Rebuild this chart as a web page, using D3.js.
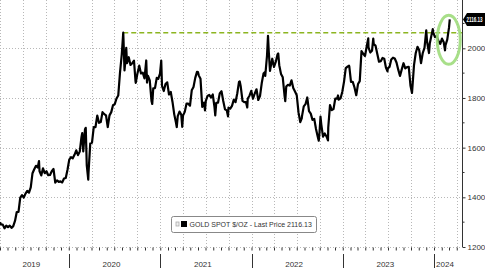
<!DOCTYPE html>
<meta charset="utf-8">
<style>
body { margin: 0; background: #fff; }
svg { display: block; font-family: "Liberation Sans", Arial, sans-serif; }
.grid line { stroke: #b8b8b8; stroke-dasharray: 1,2; }
.axis text { fill: #333; font-size: 8px; }
.axis line, .axis path { stroke: #333; }
</style>
<svg id="chart" width="485" height="268"></svg>
<script src="https://cdn.jsdelivr.net/npm/d3@7"></script>
<script>
// weekly closes plus the odd daily extreme
var dates = [
  "2019-04-01","2019-04-05","2019-04-12","2019-04-19","2019-04-26","2019-05-03","2019-05-10","2019-05-17","2019-05-24","2019-05-31",
  "2019-06-07","2019-06-14","2019-06-21","2019-06-28","2019-07-05","2019-07-12","2019-07-19","2019-07-26","2019-08-02","2019-08-09",
  "2019-08-16","2019-08-23","2019-08-30","2019-09-04","2019-09-06","2019-09-13","2019-09-20","2019-09-27","2019-10-04","2019-10-11","2019-10-18",
  "2019-10-25","2019-11-01","2019-11-08","2019-11-15","2019-11-22","2019-11-29","2019-12-06","2019-12-13","2019-12-20","2019-12-27",
  "2020-01-03","2020-01-10","2020-01-17","2020-01-24","2020-01-31","2020-02-07","2020-02-14","2020-02-21","2020-02-24","2020-02-28",
  "2020-03-06","2020-03-09","2020-03-13","2020-03-19","2020-03-20","2020-03-27","2020-04-03","2020-04-10","2020-04-17","2020-04-24",
  "2020-05-01","2020-05-08","2020-05-15","2020-05-22","2020-05-29","2020-06-05","2020-06-12","2020-06-19","2020-06-26","2020-07-03",
  "2020-07-10","2020-07-17","2020-07-24","2020-07-31","2020-08-06","2020-08-07","2020-08-11","2020-08-14","2020-08-18","2020-08-21",
  "2020-08-28","2020-09-04","2020-09-11","2020-09-18","2020-09-24","2020-09-25","2020-10-02","2020-10-09","2020-10-16","2020-10-23",
  "2020-10-30","2020-11-06","2020-11-09","2020-11-13","2020-11-20","2020-11-27","2020-11-30","2020-12-04","2020-12-11","2020-12-18",
  "2020-12-24","2020-12-31",
  "2021-01-05","2021-01-08","2021-01-15","2021-01-22","2021-01-29","2021-02-05","2021-02-12","2021-02-19","2021-02-26","2021-03-05",
  "2021-03-08","2021-03-12","2021-03-19","2021-03-26","2021-03-30","2021-04-02","2021-04-09","2021-04-16","2021-04-23","2021-04-30",
  "2021-05-07","2021-05-14","2021-05-21","2021-05-28","2021-06-01","2021-06-04","2021-06-11","2021-06-18","2021-06-25","2021-06-29",
  "2021-07-02","2021-07-09","2021-07-16","2021-07-23","2021-07-30","2021-08-06","2021-08-09","2021-08-13","2021-08-20","2021-08-27",
  "2021-09-03","2021-09-10","2021-09-17","2021-09-24","2021-09-29","2021-10-01","2021-10-08","2021-10-15","2021-10-22","2021-10-29",
  "2021-11-05","2021-11-12","2021-11-15","2021-11-19","2021-11-26","2021-12-03","2021-12-10","2021-12-15","2021-12-17","2021-12-24",
  "2021-12-31",
  "2022-01-07","2022-01-14","2022-01-21","2022-01-28","2022-02-04","2022-02-11","2022-02-18","2022-02-24","2022-02-25","2022-03-04",
  "2022-03-08","2022-03-11","2022-03-16","2022-03-18","2022-03-25","2022-04-01","2022-04-08","2022-04-15","2022-04-18","2022-04-22",
  "2022-04-29","2022-05-06","2022-05-13","2022-05-16","2022-05-20","2022-05-27","2022-06-03","2022-06-10","2022-06-17","2022-06-24",
  "2022-07-01","2022-07-08","2022-07-15","2022-07-21","2022-07-22","2022-07-29","2022-08-05","2022-08-12","2022-08-19","2022-08-26",
  "2022-09-02","2022-09-09","2022-09-16","2022-09-23","2022-09-27","2022-09-30","2022-10-04","2022-10-07","2022-10-14","2022-10-21",
  "2022-10-28","2022-11-03","2022-11-04","2022-11-11","2022-11-18","2022-11-25","2022-12-02","2022-12-09","2022-12-13","2022-12-16",
  "2022-12-23","2022-12-30",
  "2023-01-06","2023-01-13","2023-01-20","2023-01-26","2023-01-27","2023-02-03","2023-02-10","2023-02-17","2023-02-24","2023-03-03",
  "2023-03-10","2023-03-17","2023-03-24","2023-03-31","2023-04-07","2023-04-13","2023-04-14","2023-04-21","2023-04-28","2023-05-03",
  "2023-05-05","2023-05-12","2023-05-19","2023-05-26","2023-06-02","2023-06-09","2023-06-16","2023-06-23","2023-06-29","2023-06-30",
  "2023-07-07","2023-07-14","2023-07-21","2023-07-28","2023-08-04","2023-08-11","2023-08-18","2023-08-25","2023-09-01","2023-09-08",
  "2023-09-15","2023-09-22","2023-09-29","2023-10-05","2023-10-06","2023-10-13","2023-10-20","2023-10-27","2023-11-03","2023-11-10",
  "2023-11-17","2023-11-24","2023-12-01","2023-12-04","2023-12-08","2023-12-12","2023-12-15","2023-12-22","2023-12-27","2023-12-29",
  "2024-01-05","2024-01-12","2024-01-19","2024-01-26","2024-02-02","2024-02-09","2024-02-14","2024-02-16","2024-02-23","2024-03-01",
  "2024-03-04"
];
var prices = [
  1300,1291,1290,1275,1286,1280,1286,1277,1284,1305,
  1341,1341,1399,1409,1399,1415,1426,1419,1440,1497,
  1513,1527,1520,1546,1506,1488,1517,1497,1505,1489,1490,
  1505,1514,1459,1468,1462,1464,1460,1476,1478,1511,
  1552,1562,1557,1571,1589,1570,1584,1643,1659,1585,
  1674,1680,1530,1471,1498,1617,1620,1683,1683,1729,
  1700,1703,1743,1735,1730,1683,1730,1743,1771,1775,
  1798,1810,1902,1975,2063,2035,1911,1944,2002,1940,
  1964,1933,1940,1950,1868,1861,1900,1930,1899,1902,
  1879,1951,1862,1889,1871,1788,1776,1839,1840,1881,
  1877,1898,
  1950,1849,1828,1856,1863,1814,1824,1784,1734,1700,
  1683,1727,1745,1733,1684,1729,1744,1777,1777,1769,
  1831,1844,1881,1905,1904,1891,1877,1764,1781,1750,
  1787,1808,1812,1802,1814,1763,1730,1780,1781,1818,
  1827,1788,1754,1750,1726,1761,1757,1768,1793,1783,
  1818,1865,1867,1846,1788,1783,1783,1762,1798,1809,
  1829,
  1797,1818,1835,1792,1808,1860,1898,1904,1889,1970,
  2050,1988,1909,1921,1958,1925,1945,1975,1979,1932,
  1897,1883,1811,1787,1846,1853,1850,1871,1840,1826,
  1811,1742,1703,1718,1727,1766,1775,1802,1747,1737,
  1712,1716,1675,1644,1628,1660,1725,1695,1644,1657,
  1645,1629,1681,1771,1751,1755,1797,1797,1810,1793,
  1798,1824,
  1865,1920,1926,1930,1928,1865,1865,1842,1811,1856,
  1868,1989,1978,1969,2008,2040,2004,1983,1990,2039,
  2017,2011,1978,1946,1948,1961,1958,1921,1907,1919,
  1925,1955,1962,1959,1943,1914,1889,1915,1940,1919,
  1924,1925,1849,1820,1833,1932,1981,2006,1992,1940,
  1981,2002,2072,2029,2004,1981,2019,2053,2077,2063,
  2045,2049,2029,2018,2039,2024,1992,2013,2035,2083,
  2116.13
];
var yTicks = [1200, 1400, 1600, 1800, 2000];
var yMinor = [1300, 1500, 1700, 1900, 2100];
var years = [2019, 2020, 2021, 2022, 2023, 2024];
var lastPrice = 2116.13;
var prevHighDate = "2020-08-06", prevHigh = 2063;

var svg = d3.select("#chart"),
    plotW = 462, plotB = 247;
var parse = d3.timeParse("%Y-%m-%d");
var data = dates.map(function(d, i) { return {date: parse(d), value: prices[i]}; });

var x = d3.scaleTime()
    .domain([parse("2019-04-01"), parse("2024-04-22")])
    .range([0, plotW]);
var y = d3.scaleLinear()
    .domain([1200, 2000])
    .range([plotB, 48.3]);

// grid
var grid = svg.append("g").attr("class", "grid");
grid.selectAll("line.v")
    .data(x.ticks(d3.timeMonth.every(3)))
  .enter().append("line")
    .attr("x1", function(d){return Math.round(x(d)) + 0.5;})
    .attr("x2", function(d){return Math.round(x(d)) + 0.5;})
    .attr("y1", 0).attr("y2", plotB);
grid.selectAll("line.h")
    .data(yTicks)
  .enter().append("line")
    .attr("x1", 0).attr("x2", plotW)
    .attr("y1", function(d){return Math.round(y(d)) + 0.5;})
    .attr("y2", function(d){return Math.round(y(d)) + 0.5;});

// monthly ticks under the plot
svg.append("g")
    .attr("class", "axis")
    .attr("transform", "translate(0," + (plotB + 0.5) + ")")
    .call(d3.axisBottom(x).ticks(d3.timeMonth.every(1)).tickFormat("").tickSize(3).tickSizeOuter(0))
    .call(function(g){ g.select(".domain").remove(); g.selectAll("line").attr("stroke", "#888"); });

// year labels and separators
var yearG = svg.append("g").attr("class", "axis");
yearG.selectAll("line")
    .data(years.slice(1))
  .enter().append("line")
    .attr("x1", function(d){return Math.round(x(new Date(d, 0, 1))) + 0.5;})
    .attr("x2", function(d){return Math.round(x(new Date(d, 0, 1))) + 0.5;})
    .attr("y1", 254).attr("y2", 268)
    .attr("stroke", "#999");
yearG.selectAll("text")
    .data(years)
  .enter().append("text")
    .attr("x", function(d){
      var a = Math.max(0, x(new Date(d, 0, 1))), b = Math.min(plotW, x(new Date(d + 1, 0, 1)));
      return (a + b) / 2 - 3;
    })
    .attr("y", 267)
    .attr("text-anchor", "middle")
    .text(function(d){return d;});

// right axis
var yAxis = svg.append("g")
    .attr("class", "axis")
    .attr("transform", "translate(" + (plotW + 0.5) + ",0)")
    .call(d3.axisRight(y).tickValues(yTicks).tickSize(3).tickSizeOuter(0).tickFormat(d3.format("d")))
    .call(function(g){
      g.select(".domain").attr("d", "M0,0V" + plotB);
      g.selectAll("text").attr("x", 5);
    });
yAxis.selectAll("line.minor")
    .data(yMinor)
  .enter().append("line")
    .attr("class", "minor")
    .attr("x1", 0).attr("x2", 2)
    .attr("y1", function(d){return y(d);}).attr("y2", function(d){return y(d);})
    .attr("stroke", "#666");

// previous high reference
svg.append("line")
    .attr("x1", x(parse(prevHighDate))).attr("x2", plotW)
    .attr("y1", y(prevHigh)).attr("y2", y(prevHigh))
    .attr("stroke", "#8cb521")
    .attr("stroke-width", 1.5)
    .attr("stroke-dasharray", "5,3");

// price line
var line = d3.line()
    .x(function(d){return x(d.date);})
    .y(function(d){return y(d.value);});
svg.append("path")
    .datum(data)
    .attr("fill", "none")
    .attr("stroke", "#000")
    .attr("stroke-width", 2.2)
    .attr("stroke-linejoin", "round")
    .attr("d", line);

// green circle around the breakout
var last = data[data.length - 1];
svg.append("ellipse")
    .attr("cx", x(last.date) - 1)
    .attr("cy", y(2034))
    .attr("rx", 11.5).attr("ry", 24.5)
    .attr("fill", "none")
    .attr("stroke", "#9edc7c")
    .attr("stroke-width", 3)
    .attr("stroke-opacity", 0.9);

// last price tag
var tagY = y(lastPrice);
svg.append("path")
    .attr("d", "M" + (plotW + 1) + "," + tagY + "l4,-6.5h30v13h-30z")
    .attr("fill", "#000");
svg.append("text")
    .attr("x", plotW + 4.5).attr("y", tagY + 2.6)
    .attr("fill", "#fff")
    .attr("font-size", "7px")
    .attr("font-weight", "bold")
    .attr("textLength", 16)
    .attr("lengthAdjust", "spacingAndGlyphs")
    .text(d3.format(".2f")(lastPrice));

// legend
var leg = svg.append("g").attr("transform", "translate(171.5,216.5)");
leg.append("rect")
    .attr("width", 145).attr("height", 16).attr("rx", 2)
    .attr("fill", "#fff").attr("stroke", "#888");
leg.append("rect")
    .attr("x", 4.5).attr("y", 5.5).attr("width", 3).attr("height", 4)
    .attr("fill", "#eee").attr("stroke", "#aaa").attr("stroke-width", 0.8);
leg.append("rect")
    .attr("x", 9.5).attr("y", 4.5).attr("width", 6).attr("height", 6)
    .attr("fill", "#000");
leg.append("text")
    .attr("x", 18).attr("y", 10.5)
    .attr("fill", "#333")
    .attr("font-size", "7px")
    .text("GOLD SPOT $/OZ - Last Price " + d3.format(".2f")(lastPrice));
</script>
